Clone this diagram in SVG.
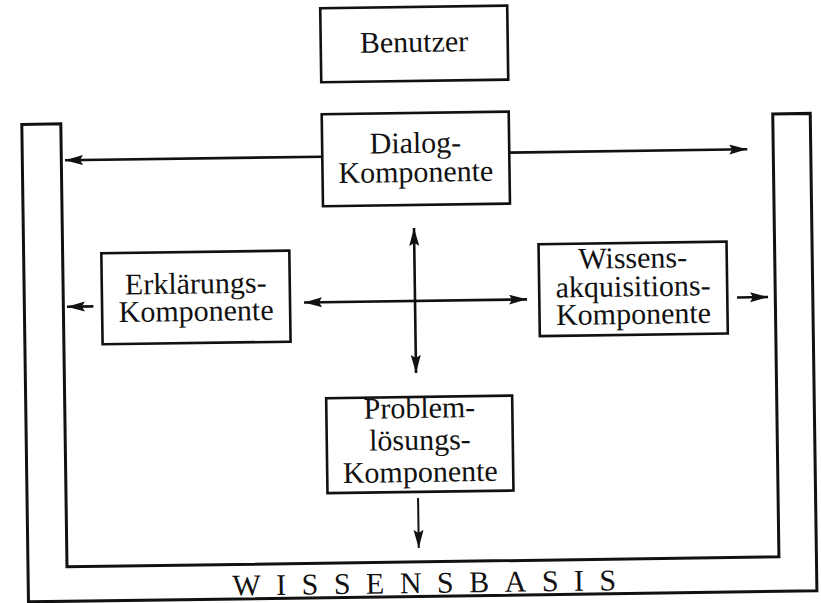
<svg xmlns="http://www.w3.org/2000/svg" width="821" height="603" viewBox="0 0 821 603">
  <style>
    .box { fill: #ffffff; stroke: #111111; stroke-width: 2.6; }
    .frame { fill: none; stroke: #111111; stroke-width: 3; stroke-linejoin: miter; }
    .lbl { font-family: "Liberation Serif", "Times New Roman", serif; font-size: 30px; fill: #111111; text-anchor: middle; }
    .kb { font-family: "Liberation Serif", "Times New Roman", serif; font-size: 30px; fill: #111111; letter-spacing: 15.5px; }
    .conn { fill: none; stroke: #111111; stroke-width: 2.6; }
    .thin { stroke-width: 2; }
  </style>
  <defs>
    <marker id="ah" markerUnits="userSpaceOnUse" markerWidth="19" markerHeight="11" refX="18" refY="5" orient="auto-start-reverse">
      <path d="M0,0 L18,5 L0,10 L3,5 Z" fill="#111111"/>
    </marker>
  </defs>
  <rect width="821" height="603" fill="#ffffff"/>
  <g transform="rotate(-0.8 410 350)">
    <g id="wissensbasis">
      <path class="frame" d="M25,119 L64,119 L64,562 L776,562 L776,119 L813.5,119 L813.5,596.5 L25,596.5 Z"/>
      <text class="kb" x="229" y="593">WISSENSBASIS</text>
    </g>
    <g id="benutzer">
      <rect class="box" x="325" y="7" width="187" height="74"/>
      <text class="lbl" x="418.3" y="52">Benutzer</text>
    </g>
    <g id="dialog">
      <rect class="box" x="325" y="113" width="187" height="92"/>
      <text class="lbl" x="418.3" y="153">Dialog-</text>
      <text class="lbl" x="418.3" y="182">Komponente</text>
    </g>
    <g id="erklaerung">
      <rect class="box" x="102.7" y="249" width="188" height="91"/>
      <text class="lbl" x="196.7" y="290.5">Erklärungs-</text>
      <text class="lbl" x="196.7" y="318">Komponente</text>
    </g>
    <g id="wissensakquisition">
      <rect class="box" x="540" y="246" width="188" height="92"/>
      <text class="lbl" x="634" y="271">Wissens-</text>
      <text class="lbl" x="634" y="299.5">akquisitions-</text>
      <text class="lbl" x="634" y="327">Komponente</text>
    </g>
    <g id="problemloesung">
      <rect class="box" x="325.5" y="397" width="186" height="95"/>
      <text class="lbl" x="418.6" y="418">Problem-</text>
      <text class="lbl" x="418.6" y="450">lösungs-</text>
      <text class="lbl" x="418.6" y="482">Komponente</text>
    </g>
    <g id="connectors">
      <path class="conn" d="M325,155.5 L67.7,155.5" marker-end="url(#ah)"/>
      <path class="conn" d="M512,154 L750,154" marker-end="url(#ah)"/>
      <path class="conn" d="M94,302 L67.6,302" marker-end="url(#ah)"/>
      <path class="conn" d="M737.7,302 L768.7,302" marker-end="url(#ah)"/>
      <path class="conn" d="M415.7,373 L415.7,228" marker-start="url(#ah)" marker-end="url(#ah)"/>
      <path class="conn" d="M304.7,301 L527.7,301" marker-start="url(#ah)" marker-end="url(#ah)"/>
      <path class="conn thin" d="M416,498 L416,548" marker-end="url(#ah)"/>
    </g>
  </g>
</svg>
